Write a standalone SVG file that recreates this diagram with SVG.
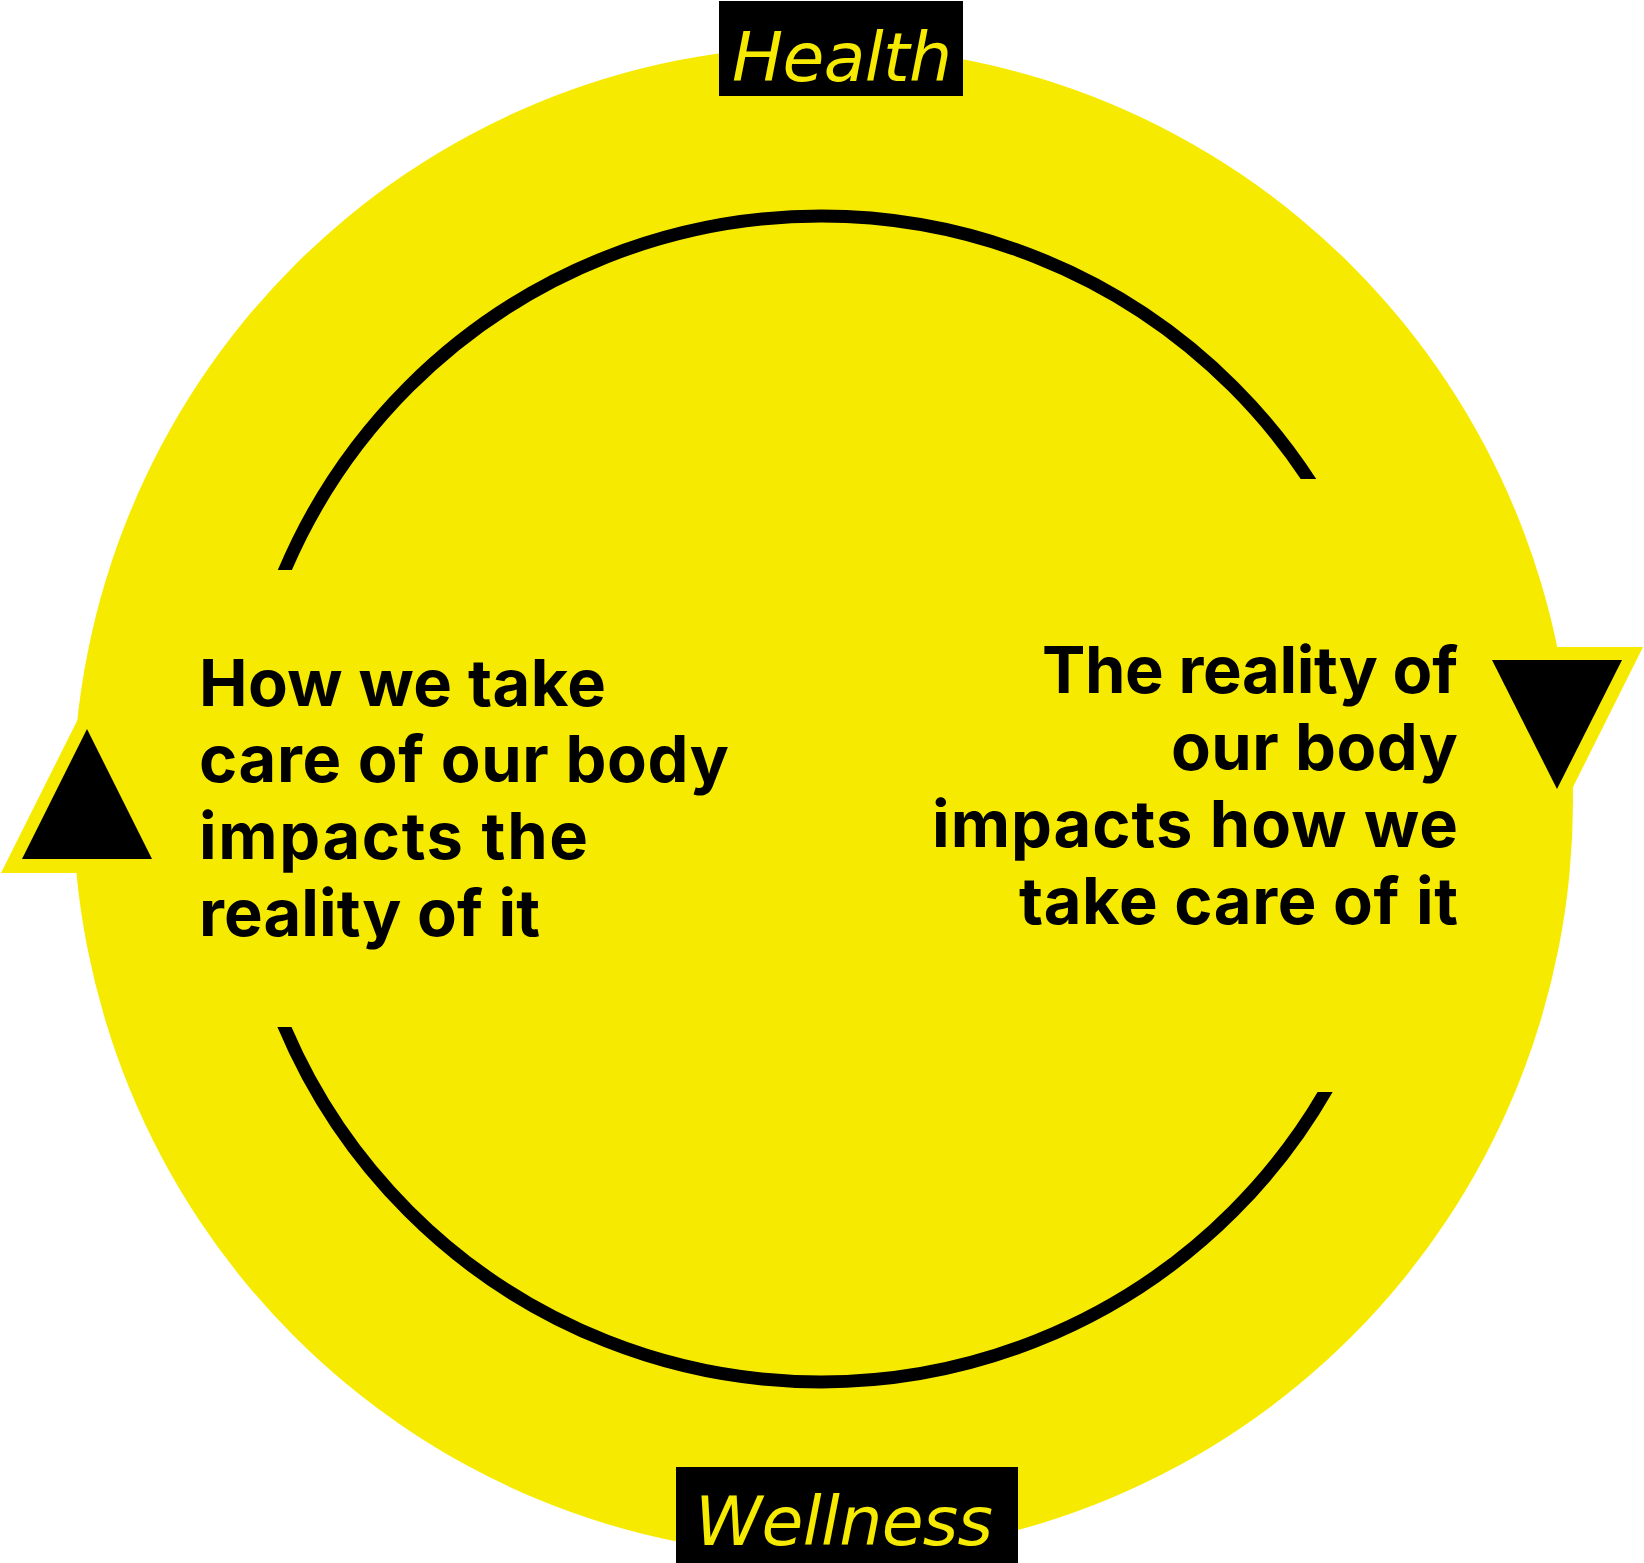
<svg xmlns="http://www.w3.org/2000/svg" width="1644" height="1563" viewBox="0 0 1644 1563">
<style>
  .yel{fill:#F6EB00;}
  .blk{fill:#000;}
  .ring{fill:none;stroke:#000;stroke-width:13;}
  .body{font-family:Inter,"Liberation Sans",sans-serif;font-weight:700;font-size:65px;fill:#000;}
  .label{font-family:"DejaVu Sans","Liberation Sans",sans-serif;font-style:oblique;font-weight:400;font-size:68px;fill:#F6EB00;}
</style>
<defs>
  <clipPath id="arcClip">
    <rect x="0" y="0" width="1644" height="479"/>
    <rect x="0" y="479" width="821" height="91"/>
    <rect x="0" y="1027" width="821" height="536"/>
    <rect x="821" y="1092" width="823" height="471"/>
  </clipPath>
</defs>
<rect x="0" y="0" width="1644" height="1563" fill="#fff"/>
<g id="background">
  <ellipse class="yel" cx="823" cy="801" rx="750" ry="755"/>
</g>
<g id="connectors">
  <circle class="ring" cx="821" cy="799" r="583" clip-path="url(#arcClip)"/>
  <polygon class="yel" points="87,701 1,873 173,873"/>
  <polygon class="blk" points="87,729 22,859 152,859"/>
  <polygon class="yel" points="1471,647 1643,647 1557,819"/>
  <polygon class="blk" points="1492,660 1622,660 1557,789"/>
</g>
<g id="node-left">
  <text class="body" x="199" y="706" textLength="407" lengthAdjust="spacing">How we take</text>
  <text class="body" x="199" y="782" textLength="530" lengthAdjust="spacing">care of our body</text>
  <text class="body" x="199" y="859" textLength="389" lengthAdjust="spacing">impacts the</text>
  <text class="body" x="199" y="936" textLength="341" lengthAdjust="spacing">reality of it</text>
</g>
<g id="node-right">
  <text class="body" x="1458" y="693" text-anchor="end" textLength="416" lengthAdjust="spacing">The reality of</text>
  <text class="body" x="1458" y="770" text-anchor="end" textLength="287" lengthAdjust="spacing">our body</text>
  <text class="body" x="1458" y="847" text-anchor="end" textLength="526" lengthAdjust="spacing">impacts how we</text>
  <text class="body" x="1458" y="924" text-anchor="end" textLength="439" lengthAdjust="spacing">take care of it</text>
</g>
<g id="node-health">
  <rect class="blk" x="719" y="1" width="244" height="95"/>
  <text class="label" x="732" y="81" textLength="220" lengthAdjust="spacing">Health</text>
</g>
<g id="node-wellness">
  <rect class="blk" x="676" y="1467" width="342" height="96"/>
  <text class="label" x="695" y="1545" textLength="298" lengthAdjust="spacing">Wellness</text>
</g>
</svg>
